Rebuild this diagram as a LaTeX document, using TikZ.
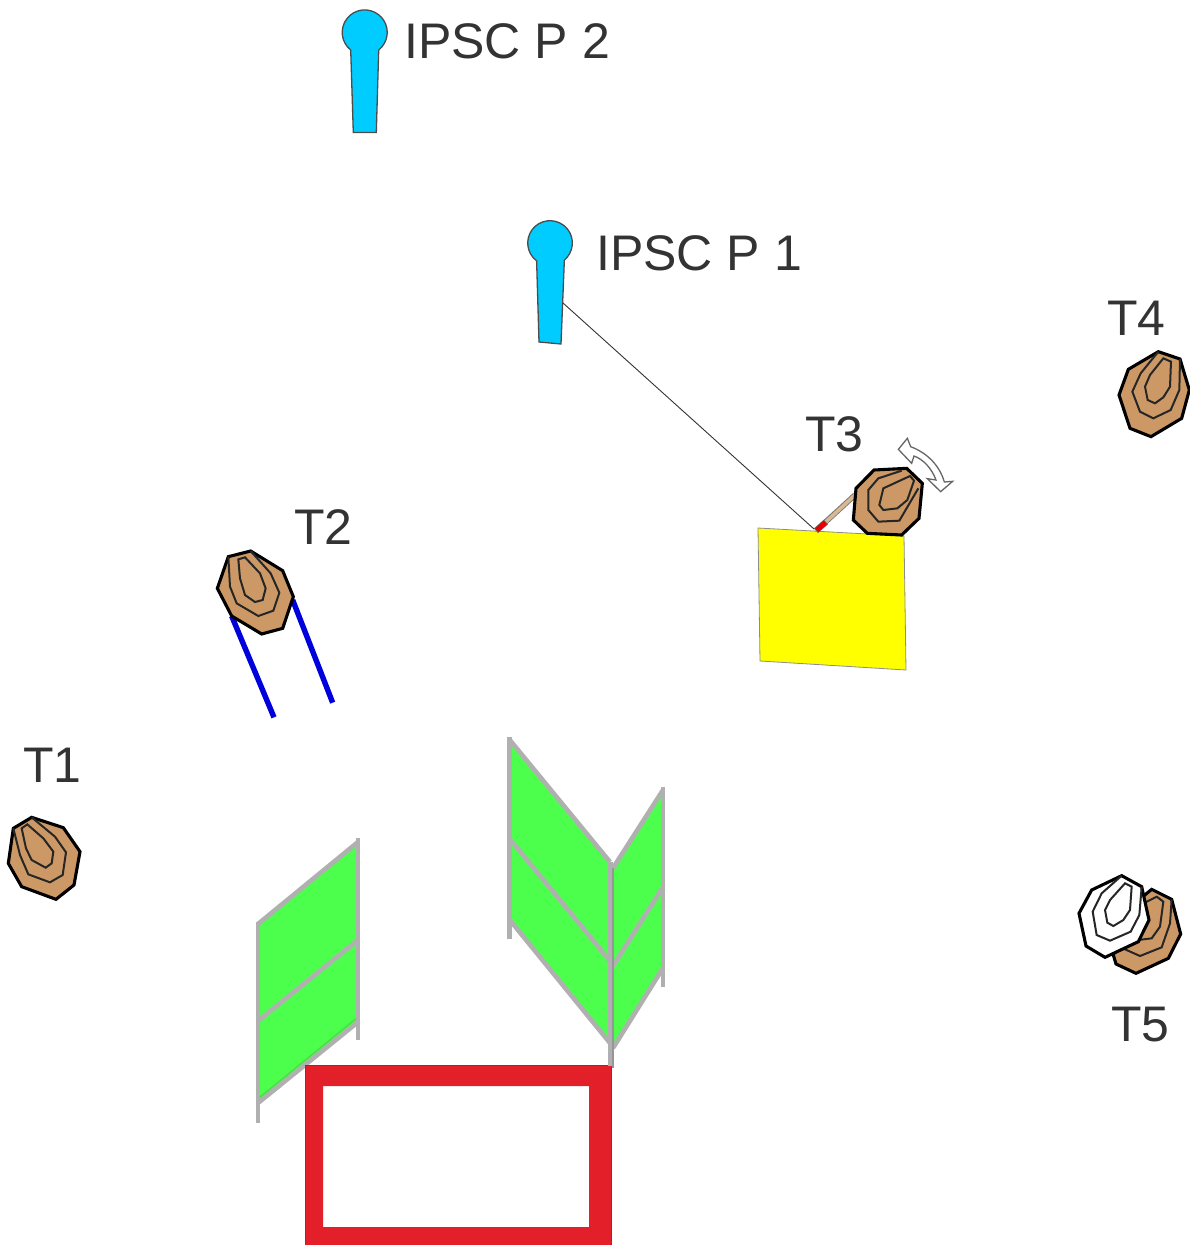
\documentclass[tikz,border=0pt]{standalone}
\usepackage{fontspec}
\setmainfont{Liberation Sans}
\definecolor{tan1}{HTML}{CC9966}
\definecolor{pinblue}{HTML}{00CCFF}
\definecolor{panelgreen}{HTML}{4DFF4D}
\definecolor{postgray}{HTML}{B0B0B0}
\definecolor{framered}{HTML}{E3202A}
\definecolor{legblue}{HTML}{0000DD}
\definecolor{txt}{HTML}{333333}
\definecolor{pureyellow}{HTML}{FFFF00}
\definecolor{purered}{HTML}{E60000}
\tikzset{
  outer/.style={draw=black,line width=3.1pt,line join=miter,fill=tan1},
  outerw/.style={draw=black,line width=3.1pt,line join=miter,fill=white},
  ring/.style={draw=black!85,line width=2pt,line join=miter},
  lab/.style={anchor=base west,inner sep=0pt,text=txt,font=\fontsize{50}{50}\selectfont},
  pin/.style={draw=black!70,line width=1.3pt,fill=pinblue},
  post/.style={draw=postgray,line width=4.2pt},
  bar/.style={draw=postgray,line width=4.6pt},
  panel/.style={fill=panelgreen},
  zoomA/.style={shift={(#1)},scale=0.33333},
}
\begin{document}
\begin{tikzpicture}[x=1pt,y=1pt,yscale=-1]
\useasboundingbox (0,0) rectangle (1189,1245);
% left panel
\fill[panel] (258,925)--(358,843)--(358,1022)--(258,1102)--cycle;
\draw[draw=green!60!black!70,line width=1.4pt,opacity=.5] (259,1098)--(358,1017);
\draw[bar] (258,924)--(358,842);
\draw[bar] (258,1021)--(358,940);
\draw[bar] (258,1103)--(358,1022);
\draw[post] (258,922)--(258,1123);
\draw[post] (358,838)--(358,1040);
% right panels
\fill[panel] (510,741)--(610,864)--(610,1044)--(510,920)--cycle;
\fill[panel] (613,868)--(663,790)--(663,968)--(613,1048)--cycle;
\draw[bar] (509,739)--(610,862);
\draw[bar] (509,838)--(610,961);
\draw[bar] (509,919)--(610,1043);
\draw[bar] (613,868)--(663,790);
\draw[bar] (613,966)--(663,887);
\draw[bar] (613,1048)--(663,968);
\draw[post] (509.5,737)--(509.5,939);
\draw[post] (663,787)--(663,987);
% red frame
\fill[framered,even odd rule] (305,1065) rectangle (611,1245) (323,1086) rectangle (589,1227);
\draw[black!70,line width=0.9pt] (305,1245)--(305,1065)--(611,1065)--(611,1245);
\draw[post] (610.5,862)--(610.5,1066);
\draw[draw=postgray!85!black,line width=2.6pt] (613,868)--(613,1068);
% pins
\path[pin] (353.3,132.5)--(350.7,50) arc[start angle=128.5,end angle=411.5,radius=22.5]--(376.3,132.5)--cycle;
\path[pin] (539,342)--(536.6,260.8) arc[start angle=127,end angle=410,radius=22.3]--(561,344)--cycle;
\node[lab] (p2) at (404,58.5) {IPSC P 2};
\node[lab] (p1) at (596,270.5) {IPSC P 1};
% yellow
\draw[draw=black!45,line width=0.8pt,fill=pureyellow] (758,528)--(904,536)--(906,670)--(760,661)--cycle;
\coordinate (p1foot) at (563,303);
\coordinate (t3foot) at (814,529);
\draw[black!80,line width=0.9pt] (p1foot)--(t3foot);
% T3 arm
\begin{scope}[zoomA={790,420}]
\draw[draw=black!55,line width=5.4pt] (195,225)--(78,332);
\draw[draw=tan1!70!white,line width=3.6pt] (195,225)--(105,308);
\draw[draw=black!55,line width=6.2pt] (108,306)--(78,332);
\draw[draw=purered,line width=5pt] (106,307)--(80,331);
\path[outer] (252,150)--(350,145)--(397,190)--(387,295)--(335,345)--(232,340)--(190,300)--(198,205)--cycle;
\draw[ring] (335,152)--(265,175)--(235,210)--(235,270)--(265,305)--(328,302)--(385,205);
\draw[ring] (280,205)--(360,168)--(372,182)--(352,240)--(322,265)--(280,270)--(268,255)--cycle;
% rotation arrow
\draw[draw=black!60,line width=1.3pt,fill=white,line join=miter] (352,55)--(325,88)--(365,130)--(372,108)
  .. controls (400,118) and (425,145) .. (438,180)--(412,176)--(452,215)--(488,184)--(463,186)
  .. controls (450,140) and (415,100) .. (362,80)--cycle;
\end{scope}
% T1
\begin{scope}[zoomA={0,805}]
\path[outer] (95,37)--(190,68)--(240,140)--(222,240)--(168,283)--(65,245)--(25,175)--(40,70)--cycle;
\draw[ring] (40,70)--(60,150)--(85,208)--(150,232)--(188,210)--(198,142)--(165,95)--(95,37);
\draw[ring] (65,70)--(82,58)--(130,100)--(160,140)--(155,175)--(137,188)--(95,165)--(78,130)--cycle;
\end{scope}
% T2
\begin{scope}[zoomA={200,540}]
\draw[draw=legblue,line width=5.4pt] (95,228)--(222,532);
\draw[draw=legblue,line width=5.4pt] (278,180)--(398,488);
\path[outer] (85,50)--(152,33)--(248,92)--(280,170)--(248,265)--(185,282)--(95,228)--(52,145)--cycle;
\draw[ring] (85,50)--(90,140)--(110,190)--(175,228)--(220,212)--(238,158)--(212,100)--(152,33);
\draw[ring] (115,58)--(135,52)--(180,100)--(197,145)--(188,180)--(165,186)--(135,165)--(120,115)--cycle;
\end{scope}
% T4
\begin{scope}[zoomA={1100,340}]
\path[outer] (175,35)--(240,57)--(268,150)--(245,235)--(153,290)--(90,265)--(57,165)--(85,88)--cycle;
\draw[ring] (175,35)--(122,100)--(97,155)--(120,215)--(160,235)--(212,210)--(238,150)--(240,57);
\draw[ring] (190,55)--(213,65)--(210,140)--(190,172)--(165,190)--(143,180)--(135,140)--(150,105)--cycle;
\end{scope}
% T5
\begin{scope}[zoomA={1060,860}]
\path[outer] (275,88)--(335,118)--(362,222)--(325,295)--(228,340)--(168,312)--(160,285)--(200,150)--cycle;
\draw[ring] (195,268)--(240,288)--(305,262)--(330,190)--(335,118);
\draw[ring] (235,240)--(275,235)--(300,200)--(310,125)--(290,110)--(250,130);
\path[outerw] (95,90)--(185,47)--(245,80)--(267,180)--(235,245)--(135,292)--(78,258)--(57,160)--cycle;
\draw[ring] (245,80)--(238,165)--(212,215)--(150,242)--(110,225)--(98,155)--(125,100)--(185,47);
\draw[ring] (195,70)--(215,80)--(210,150)--(190,180)--(160,198)--(142,188)--(135,150)--(150,120)--cycle;
\end{scope}
% labels
\node[lab] (t1) at (23,782.5) {T1};
\node[lab] (t2) at (294,544.5) {T2};
\node[lab] (t3) at (805,451.5) {T3};
\node[lab] (t4) at (1107,335) {T4};
\node[lab] (t5) at (1111,1041.5) {T5};
\end{tikzpicture}
\end{document}
